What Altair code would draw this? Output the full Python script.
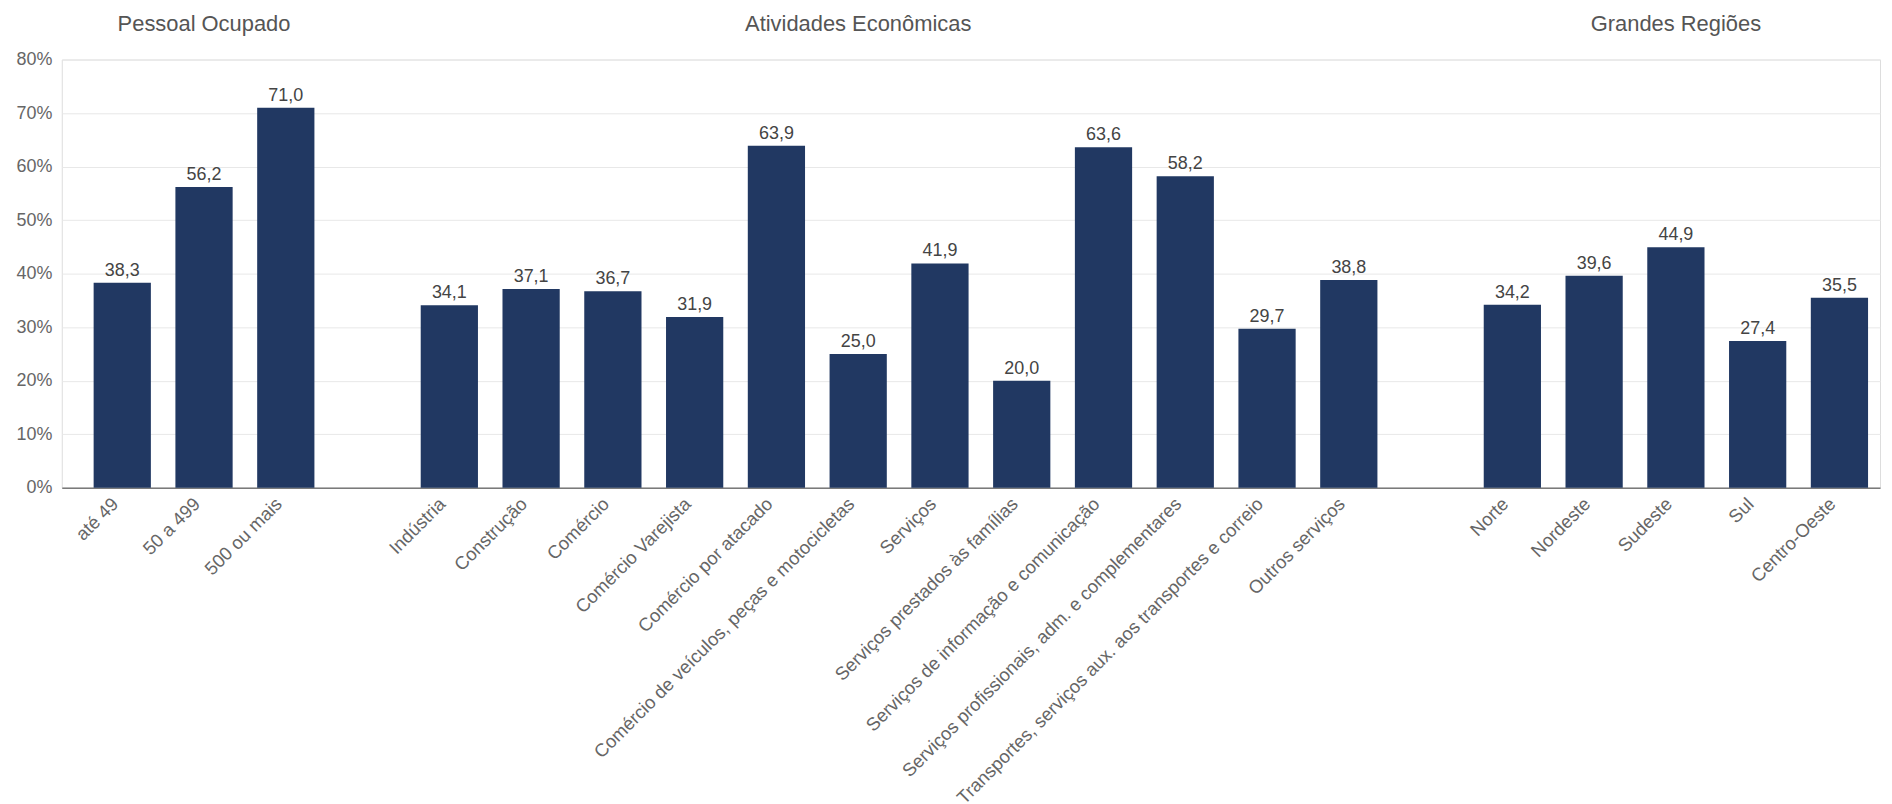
import altair as alt
import pandas as pd

grp1 = ["até 49", "50 a 499", "500 ou mais"]
val1 = [38.3, 56.2, 71.0]
grp2 = ["Indústria", "Construção", "Comércio", "Comércio Varejista", "Comércio por atacado",
        "Comércio de veículos, peças e motocicletas", "Serviços", "Serviços prestados às famílias",
        "Serviços de informação e comunicação", "Serviços profissionais, adm. e complementares",
        "Transportes, serviços aux. aos transportes e correio", "Outros serviços"]
val2 = [34.1, 37.1, 36.7, 31.9, 63.9, 25.0, 41.9, 20.0, 63.6, 58.2, 29.7, 38.8]
grp3 = ["Norte", "Nordeste", "Sudeste", "Sul", "Centro-Oeste"]
val3 = [34.2, 39.6, 44.9, 27.4, 35.5]

group_titles = ["Pessoal Ocupado", "Atividades Econômicas", "Grandes Regiões"]
title_anchor = ["50 a 499", "Comércio de veículos, peças e motocicletas", "Sudeste"]

gap1, gap2 = " ", "  "
domain = grp1 + [gap1] + grp2 + [gap2] + grp3

cats = grp1 + grp2 + grp3
vals = val1 + val2 + val3
df = pd.DataFrame({"cat": cats, "val": vals})
df["label"] = [f"{v:.1f}".replace(".", ",") for v in vals]

tdf = pd.DataFrame({"cat": title_anchor, "title": group_titles})

FONT = "Liberation Sans"

xscale = alt.Scale(domain=domain, paddingInner=0.3, paddingOuter=0.268, align=0.727)
x = alt.X("cat:N", scale=xscale, sort=domain, title=None,
          axis=alt.Axis(labelAngle=-45, labelAlign="right", labelBaseline="middle",
                        labelPadding=13, labelOffset=-7, labelFontSize=18.5, labelColor="#666666",
                        labelFont=FONT, ticks=False, domainColor="#7a7a7a", domainWidth=1.5,
                        labelLimit=1000, labelOverlap=False))
y = alt.Y("val:Q", scale=alt.Scale(domain=[0, 80], nice=False), title=None,
          axis=alt.Axis(values=[0, 10, 20, 30, 40, 50, 60, 70, 80],
                        labelExpr="datum.value + '%'", labelFontSize=18, labelColor="#666666",
                        labelFont=FONT, labelPadding=10, ticks=False, domain=False,
                        gridColor="#e8e8e8", gridWidth=1))

bars = alt.Chart(df).mark_bar(color="#213862").encode(x=x, y=y)
text = alt.Chart(df).mark_text(baseline="alphabetic", dy=-7, fontSize=18, color="#444444",
                               font=FONT).encode(x=alt.X("cat:N", scale=xscale, sort=domain),
                                                 y="val:Q", text="label:N")
titles = alt.Chart(tdf).mark_text(baseline="middle", fontSize=22, color="#555555",
                                  font=FONT).encode(
    x=alt.X("cat:N", scale=xscale, sort=domain), y=alt.value(-36), text="title:N")

chart = alt.layer(bars, text, titles).properties(
    width=1826, height=430,
    padding={"left": 54, "top": 50, "right": 4, "bottom": 330},
    autosize=alt.AutoSizeParams(type="none"),
).configure_view(stroke=None).configure(background="white")

chart.save("out.html", embed_options={"renderer": "svg", "actions": False})
